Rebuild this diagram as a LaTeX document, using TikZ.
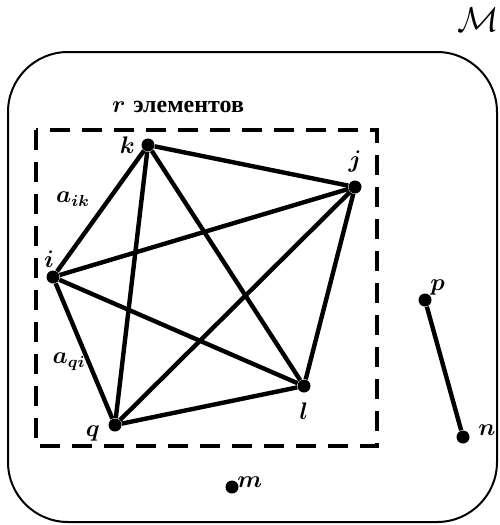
\documentclass[tikz,border=0pt]{standalone}
\usepackage{amsmath, amssymb}
\usepackage{fontspec}
\newfontfamily\cyrfont{Liberation Serif}
\usepackage{tikz}
\usetikzlibrary{positioning}
\tikzset{>=latex}
\tikzset{vertex/.style={circle, fill=black, inner sep=0pt, minimum size=6.5pt},
  link/.style={line width=2.2pt},
  lbl/.style={inner sep=1pt, font=\large\boldmath}}
\newcommand{\subsettitle}{$\boldsymbol{r}$ {\cyrfont\bfseries элементов}}

\begin{document}
\begin{tikzpicture}[x=0.5pt, y=-0.5pt]
  \useasboundingbox (0,0) rectangle (499,525);
  % outer set and the r-subset
  \draw[line width=1pt, rounded corners=30pt] (8,52) rectangle (497,522);
  \draw[line width=1.6pt, dash pattern=on 10pt off 6pt] (36,130) rectangle (377,446);
  \node[lbl, font=\LARGE] (M) at (478,20) {$\mathcal{M}$};
  \node[inner sep=0pt, font=\large] (title) at (178,107) {\subsettitle};
  % vertices
  \foreach \v/\x/\y in {k/148/145, j/355/187, i/53/277, q/115/425, l/304/386,
                        p/425/300, n/463/437, m/232/487}
    \node[vertex] (\v) at (\x,\y) {};
  % complete graph on the subset
  \foreach \a/\b in {k/j, k/i, k/q, k/l, j/i, j/q, j/l, i/q, i/l, q/l, p/n}
    \draw[link] (\a) -- (\b);
  % labels
  \node[lbl, left=2pt of k] (lk) {$k$};
  \node[lbl, above=3pt of j] (lj) {$j$};
  \node[lbl, above left=1pt and -4pt of i] (li) {$i$};
  \node[lbl, below left=-3pt and 4pt of q] (lq) {$q$};
  \node[lbl, below=4pt of l] (ll) {$l$};
  \node[lbl, above right=-1pt and -1pt of p] (lp) {$p$};
  \node[lbl, above right=-3pt and 4pt of n] (ln) {$n$};
  \node[lbl, above right=-4pt and -1pt of m] (lm) {$m$};
  \node[lbl] (aik) at (73,199) {$a_{ik}$};
  \node[lbl] (aqi) at (69,362) {$a_{qi}$};
\end{tikzpicture}
\end{document}
